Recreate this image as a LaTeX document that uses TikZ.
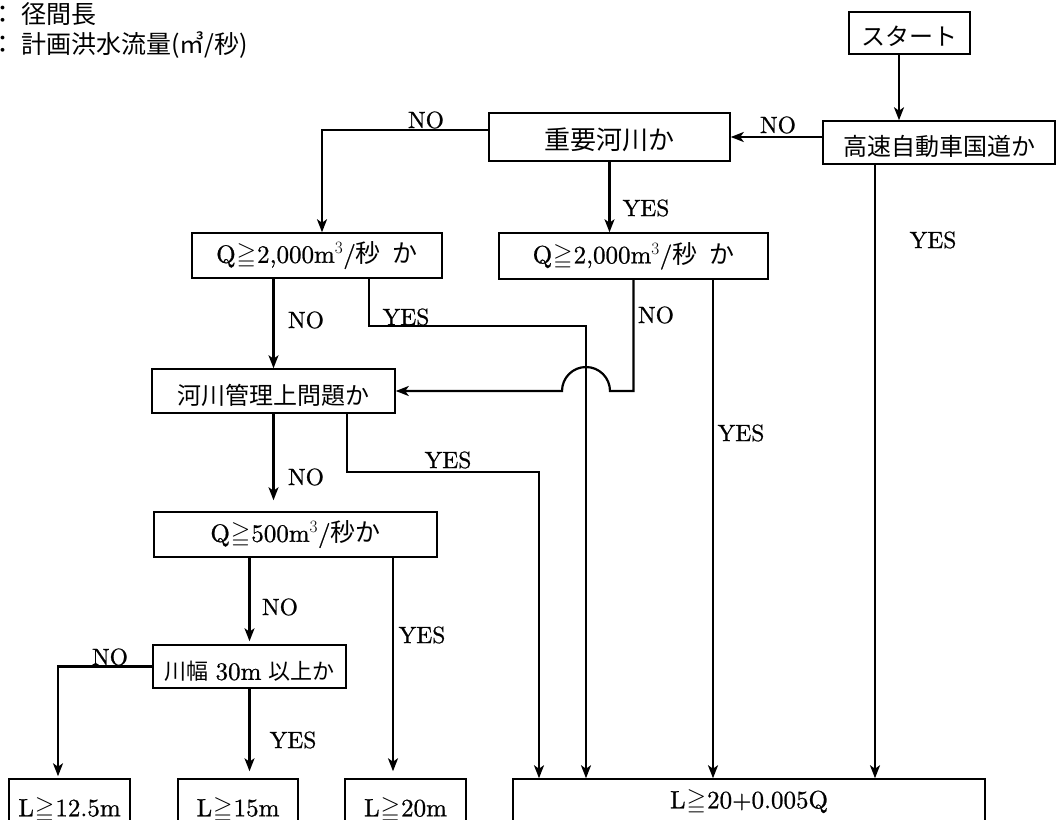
\documentclass[tikz,border=0pt]{standalone}
\usepackage{amssymb}
\usepackage{fontspec}
\setmainfont{lmroman10-regular.otf}[FakeBold=0.8]
\usepackage{tikz}
\usetikzlibrary{arrows.meta}
\newfontfamily\jp{Noto Sans CJK JP}
\newcommand{\jtext}[1]{{\jp #1}}
\newcommand{\geqmark}{\kern1pt$\geqq$\kern1pt}
\newcommand{\sinktext}[2]{\raisebox{-#1}[0.88em][0.12em]{#2}}

\tikzset{
  box/.style={draw, line width=1.5pt, inner sep=2pt, font=\fontsize{25}{29}\selectfont},
  lbl/.style={inner sep=0pt, font=\fontsize{23.5}{27}\selectfont},
  legend/.style={anchor=west, inner sep=0pt, font=\jp\fontsize{25}{30}\selectfont},
  arr/.style={-{Stealth[length=13pt,width=10pt,inset=3.5pt]}, line width=2.2pt},
}

\begin{document}
\begin{tikzpicture}[x=1pt,y=-1pt]
\useasboundingbox (0,0) rectangle (1056,819);

\node[legend] (legL) at (-10,14) {：\hspace{6pt}径間長};
\node[legend] (legQ) at (-10,45) {：\hspace{6pt}計画洪水流量(㎥/秒)};

\node[box, minimum width=121, minimum height=42, font=\fontsize{24}{28}\selectfont] (start) at (909.5,33) {\sinktext{3pt}{\jtext{スタート}}};
\node[box, minimum width=232, minimum height=43, font=\fontsize{24}{28}\selectfont] (koso) at (939,142.5) {\sinktext{4pt}{\jtext{高速自動車国道か}}};
\node[box, minimum width=241, minimum height=48, font=\fontsize{26}{30}\selectfont] (juyo) at (609.5,137) {\sinktext{3pt}{\jtext{重要河川か}}};
\node[box, minimum width=250, minimum height=45] (qa) at (317,255.5) {Q\geqmark 2,000m$^3$/\jtext{秒\hspace{12pt}か}};
\node[box, minimum width=269, minimum height=46] (qb) at (633.5,256) {Q\geqmark 2,000m$^3$/\jtext{秒\hspace{12pt}か}};
\node[box, minimum width=243, minimum height=44, font=\fontsize{24}{28}\selectfont] (kanri) at (273.5,391) {\sinktext{4pt}{\jtext{河川管理上問題か}}};
\node[box, minimum width=283, minimum height=45] (qc) at (295.5,534.5) {Q\geqmark 500m$^3$/\jtext{秒か}};
\node[box, minimum width=193, minimum height=43, font=\fontsize{22}{26}\selectfont] (haba) at (249.5,666.5) {\sinktext{5pt}{\jtext{川幅} {\fontsize{25}{29}\selectfont 30m} \jtext{以上か}}};
\node[box, minimum width=121, minimum height=62] (la) at (69.5,810) {L\geqmark 12.5m};
\node[box, minimum width=120, minimum height=62] (lb) at (238,810) {L\geqmark 15m};
\node[box, minimum width=121, minimum height=62] (lc) at (405.5,810) {L\geqmark 20m};
\node[box, minimum width=472, minimum height=46] (ld) at (749,802) {L\geqmark 20+0.005Q};

\draw[arr] ([xshift=-10.5pt]start.south) -- ([xshift=-10.5pt]start.south |- koso.north);
\draw[arr] (koso.west |- juyo.east) -- (juyo.east);
\draw[arr] ([yshift=7pt]juyo.west) -| ([xshift=5pt]qa.north);
\draw[arr] (juyo.south) -- (juyo.south |- qb.north);
\draw[arr] ([xshift=-64pt]koso.south) -- ([xshift=-64pt]koso.south |- ld.north);
\draw[arr] (kanri.north |- qa.south) -- (kanri.north);
\coordinate (jmpA) at (586,326);
\draw[arr] ([xshift=52pt]qa.south) |- (jmpA) -- (jmpA |- ld.north);
\coordinate (hop) at (kanri.east -| jmpA);
\draw[arr] (qb.south) |- ([xshift=24pt]hop) arc[start angle=0, end angle=180, radius=24pt] -- (kanri.east);
\draw[arr] ([xshift=79.5pt]qb.south) -- ([xshift=79.5pt]qb.south |- ld.north);
\draw[arr, shorten >=11pt] (kanri.south) -- (kanri.south |- qc.north);
\coordinate (jmpB) at (539,472);
\draw[arr] ([xshift=73.5pt]kanri.south) |- (jmpB) -- (jmpB |- ld.north);
\draw[arr, shorten >=3pt] (haba.north |- qc.south) -- (haba.north);
\draw[arr, shorten >=7pt] ([xshift=97.5pt]qc.south) -- ([xshift=97.5pt]qc.south |- lc.north);
\draw[arr, shorten >=2pt] (haba.west) -| ([xshift=-11.5pt]la.north);
\draw[arr, shorten >=7pt] (haba.south) -- (haba.south |- lb.north);

\node[lbl] (no1) at (778,125) {NO};
\node[lbl] (no2) at (426,120) {NO};
\node[lbl] (yes1) at (646,208) {YES};
\node[lbl] (yes2) at (933,240) {YES};
\node[lbl] (no3) at (306,320) {NO};
\node[lbl] (yes3) at (406,317) {YES};
\node[lbl] (no4) at (656,315) {NO};
\node[lbl] (yes4) at (741,433) {YES};
\node[lbl] (no5) at (306,477) {NO};
\node[lbl] (yes5) at (448,460) {YES};
\node[lbl] (no6) at (280,607) {NO};
\node[lbl] (yes6) at (422,635) {YES};
\node[lbl] (no7) at (110,657) {NO};
\node[lbl] (yes7) at (293,740) {YES};
\end{tikzpicture}
\end{document}
